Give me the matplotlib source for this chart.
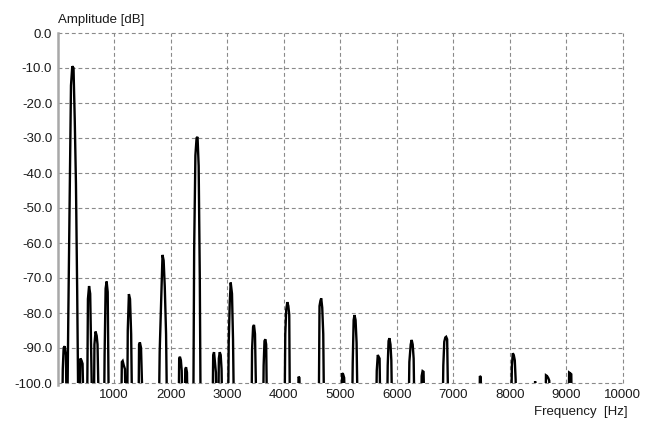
import numpy as np
import matplotlib
matplotlib.use('Agg')
import matplotlib.pyplot as plt

# spectrum lines: one row per spectral peak, frequency in Hz and level in dB
peak_freqs = [
    [80, 90, 105, 125, 145, 160],
    [170, 187, 213, 235, 258, 280, 302, 323, 345, 366],
    [385, 400, 420, 440, 460],
    [520, 535, 555, 575, 595, 612],
    [640, 650, 670, 690, 705, 717, 730],
    [820, 830, 848, 866, 885, 905],
    [1125, 1135, 1150, 1170, 1190, 1207],
    [1230, 1240, 1260, 1280, 1300, 1318],
    [1430, 1440, 1455, 1475, 1490, 1512],
    [1790, 1805, 1835, 1855, 1875, 1895, 1918, 1936],
    [2140, 2150, 2163, 2180, 2195, 2210],
    [2248, 2258, 2272, 2288, 2300],
    [2400, 2415, 2437, 2458, 2475, 2495, 2515, 2530],
    [2740, 2752, 2767, 2785, 2800, 2812],
    [2842, 2852, 2868, 2885, 2900, 2915],
    [3015, 3027, 3045, 3062, 3085, 3103, 3120],
    [3430, 3440, 3458, 3474, 3492, 3505, 3520],
    [3635, 3645, 3660, 3675, 3690, 3705],
    [4015, 4028, 4045, 4064, 4082, 4098, 4110],
    [4255, 4262, 4278, 4292],
    [4620, 4634, 4650, 4664, 4682, 4700, 4715],
    [5025, 5035, 5052, 5070, 5090],
    [5210, 5222, 5238, 5253, 5272, 5290, 5310],
    [5635, 5647, 5665, 5682, 5697, 5712],
    [5830, 5841, 5856, 5871, 5890, 5905, 5920],
    [6210, 6224, 6248, 6265, 6283, 6300, 6315],
    [6432, 6442, 6458, 6475, 6495],
    [6812, 6825, 6842, 6860, 6875, 6893, 6914],
    [7465, 7472, 7488, 7500],
    [8025, 8039, 8055, 8072, 8090, 8105, 8120],
    [8440, 8450, 8462],
    [8630, 8642, 8660, 8680, 8700, 8716],
    [9040, 9052, 9070, 9090, 9100],
]
peak_levels = [
    [-110, -96, -90, -89.5, -92, -110],
    [-110, -82, -47, -15, -9.5, -10, -25, -43, -74, -110],
    [-110, -93, -93.5, -94.5, -110],
    [-110, -76, -72.3, -74.5, -93, -110],
    [-110, -89, -85.3, -86.5, -89, -99, -110],
    [-110, -92, -73, -71, -74, -110],
    [-110, -94, -93.7, -95, -96, -110],
    [-110, -85, -74.6, -76, -86, -110],
    [-110, -89, -88.4, -90, -99, -110],
    [-110, -91, -75, -63.4, -65, -72.5, -86, -110],
    [-110, -93, -92.5, -93.5, -96.5, -110],
    [-110, -96, -95.5, -97, -110],
    [-110, -62, -35, -30, -29.7, -38, -70, -110],
    [-110, -92, -91.2, -94.3, -97, -110],
    [-110, -93, -91.2, -92, -96, -110],
    [-110, -88.5, -77, -71.3, -74.5, -87.5, -110],
    [-110, -90.5, -84, -83.4, -86, -98, -110],
    [-110, -95, -88, -87.5, -89, -110],
    [-110, -86, -79, -76.9, -78, -80.5, -110],
    [-110, -98.2, -98.5, -110],
    [-110, -78, -76.5, -75.8, -78.5, -86, -110],
    [-110, -97.2, -97.5, -98.5, -110],
    [-110, -94, -82, -80.6, -82, -88.5, -110],
    [-110, -96.5, -92, -92.5, -93, -110],
    [-110, -95, -88, -87.2, -89, -93.5, -110],
    [-110, -94, -89, -87.7, -89, -93, -110],
    [-110, -98, -96.6, -96.8, -110],
    [-110, -95, -88.2, -87, -86.8, -87.5, -110],
    [-110, -98, -98.3, -110],
    [-110, -95, -91.5, -92, -93.5, -99, -110],
    [-110, -99.5, -110],
    [-110, -97.8, -98, -98.5, -99.3, -110],
    [-110, -97, -97.2, -97.5, -110],
]

x_ticks = np.arange(1000, 10001, 1000)
y_ticks = np.arange(0, -101, -10)

freq = np.concatenate([np.array(f, float) for f in peak_freqs])
level = np.concatenate([np.array(l, float) for l in peak_levels])

plt.rcParams['font.family'] = ['Liberation Sans', 'DejaVu Sans']

fig = plt.figure(figsize=(6.53, 4.22), dpi=100)
W, H = 653.0, 422.0
ax = fig.add_axes([57.7 / W, 1 - 383 / H, 565 / W, 350 / H])
ax.set_xlim(0, 10000)
ax.set_ylim(-100, 0)

grid_kw = dict(color='#8a8a8a', linewidth=0.8, linestyle=(0, (3.5, 2.5)), clip_on=False, zorder=1)
for xt in x_ticks:
    ax.axvline(xt, **grid_kw)
for yt in y_ticks:
    ax.axhline(yt, **grid_kw)

ax.plot(freq, level, color='black', linewidth=1.7, solid_joinstyle='miter', zorder=3)

for side in ['top', 'right', 'bottom']:
    ax.spines[side].set_visible(False)
ax.spines['left'].set_color('#a8a8a8')
ax.spines['left'].set_linewidth(1.8)
ax.spines['left'].set_bounds(-100.5, 0)
ax.spines['left'].set_zorder(4)

ax.set_xticks(x_ticks)
ax.set_xticklabels([str(v) for v in x_ticks])
ax.set_yticks(y_ticks)
ax.set_yticklabels(['%.1f' % v for v in y_ticks])
ax.tick_params(length=0, labelsize=9.5, colors='#1a1a1a')
ax.tick_params(axis='x', pad=4)
ax.tick_params(axis='y', pad=4)

fig.text(57.5 / W, 1 - 20 / H, 'Amplitude [dB]', fontsize=9.5, color='#1a1a1a',
         ha='left', va='center')
fig.text(627.5 / W, 1 - 412 / H, 'Frequency  [Hz]', fontsize=9.5, color='#1a1a1a',
         ha='right', va='center')

fig.savefig('out.png', dpi=100)
